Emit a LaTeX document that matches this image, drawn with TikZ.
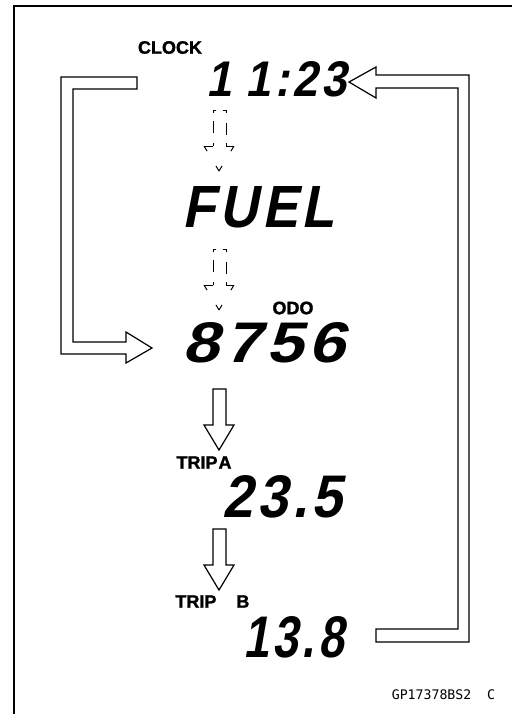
\documentclass[tikz,border=0pt]{standalone}
\usepackage{fontspec}
\usepackage{graphicx}
\newfontfamily\lcdfont{Liberation Sans}[FakeSlant=0.22,LetterSpace=8]
\newfontfamily\lblfont{Liberation Sans}[FakeBold=1.5]
\newfontfamily\codefont{DejaVu Sans Mono}
\newcommand{\lcdtext}[3]{\resizebox{#1}{#2}{\lcdfont\bfseries #3\kern-0.08em}}
\tikzset{
  lcd/.style={inner sep=0pt},
  lbl/.style={inner sep=0pt,font=\lblfont\bfseries\fontsize{9}{9}\selectfont},
  hollow/.style={draw=black,fill=white,line width=0.6pt,line join=miter},
  dashline/.style={line width=0.5pt},
  shaftdash/.style={dashline,dash pattern=on 1.5pt off 5pt on 6pt off 4pt on 1.5pt off 10pt},
  topdash/.style={dashline,dash pattern=on 1.5pt off 3.5pt on 1.5pt off 10pt},
  diagdash/.style={dashline,dash pattern=on 3pt off 8.6pt on 3pt off 10pt},
}

\begin{document}
\begin{tikzpicture}[x=0.5pt,y=-0.5pt]
  \useasboundingbox (0,0) rectangle (512,714);
  \draw[line width=1.4pt] (14,714) -- (14,6) -- (512,6);

  \node[lbl] (clocklbl) at (170,47.5) {CLOCK};
  \node[lcd] (clockval) at (275,79.5) {\lcdtext{68pt}{17.5pt}{1\hspace{0.3em}1:23}};
  \node[lcd] (fuel) at (256.5,207.5) {\lcdtext{73.5pt}{20.5pt}{FUEL}};
  \node[lbl] (odolbl) at (293,308) {ODO};
  \node[lcd] (odoval) at (261.5,343) {\lcdtext{78.5pt}{20pt}{8756}};
  \node[lbl] (tripalbl) at (204,462.5) {TRIP\kern0.5pt A};
  \node[lcd] (tripaval) at (280.5,497) {\lcdtext{57.5pt}{21pt}{23.5}};
  \node[lbl,anchor=west] (tripblbl) at (175,601.5) {TRIP\hspace{10pt}B};
  \node[lcd] (tripbval) at (291.5,637.5) {\lcdtext{48.5pt}{20.5pt}{13.8}};
  \node[inner sep=0pt,font=\codefont\fontsize{6.6}{6.6}\selectfont] (code) at (443.5,695) {GP17378BS2\ \ C};

  \draw[hollow] (137,77) -- (61,77) -- (61,354) -- (126,354) -- (126,363) -- (152,348) -- (126,332) -- (126,342) -- (73,342) -- (73,89) -- (137,89) -- cycle;
  \draw[hollow] (376,642) -- (469,642) -- (469,75) -- (376,75) -- (376,67) -- (349,82) -- (376,98) -- (376,88) -- (458,88) -- (458,629) -- (376,629) -- cycle;

  \foreach \t in {389,529}
    \draw[hollow] (213,\t) -- (213,\t+36) -- (204,\t+36) -- (219,\t+61) -- (234,\t+36) -- (226,\t+36) -- (226,\t) -- cycle;

  \foreach \t in {110,249} {
    \draw[shaftdash] (213,\t+36) -- (213,\t);
    \draw[topdash] (213,\t) -- (226,\t);
    \draw[shaftdash] (226,\t) -- (226,\t+36);
    \draw[dashline] (213,\t+36) -- (204,\t+36);
    \draw[dashline] (226,\t+36) -- (234,\t+36);
    \draw[diagdash] (204,\t+36) -- (219,\t+61);
    \draw[diagdash] (234,\t+36) -- (219,\t+61);
  }
\end{tikzpicture}
\end{document}
